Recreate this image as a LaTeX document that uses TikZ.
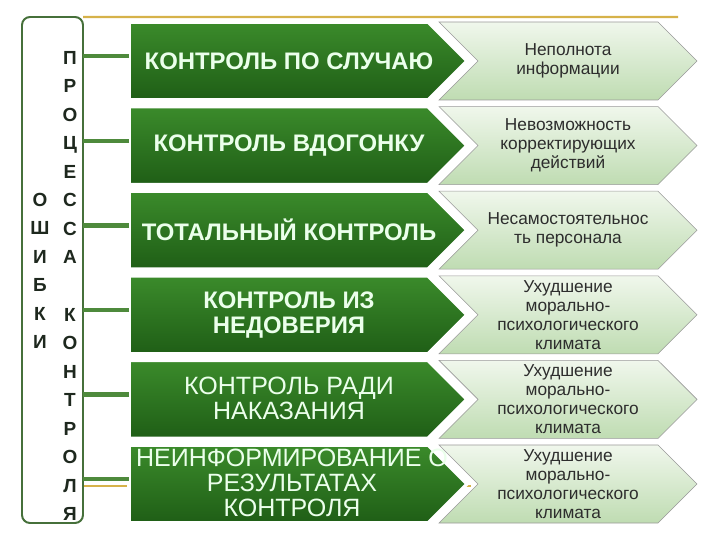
\documentclass[tikz,border=0pt]{standalone}
\usepackage{fontspec}
\setmainfont{Liberation Sans}
\usepackage{tikz}
\usetikzlibrary{shapes.symbols, backgrounds}
\definecolor{darkgreen}{RGB}{31,94,22}
\definecolor{midgreen}{RGB}{59,139,43}
\definecolor{linkgreen}{RGB}{78,138,60}
\definecolor{framegreen}{RGB}{70,112,58}
\definecolor{palegreen}{RGB}{240,247,236}
\definecolor{leafgreen}{RGB}{191,220,178}
\definecolor{goldline}{RGB}{214,178,74}
\definecolor{inkgray}{RGB}{45,45,45}
\definecolor{letterink}{RGB}{30,40,30}

\begin{document}
\begin{tikzpicture}[
  every node/.style={inner sep=0pt, outer sep=0pt},
  frame/.style={draw=framegreen, line width=1.4pt, rounded corners=0.2cm, fill=white,
                minimum width=1.525cm, minimum height=12.65cm},
  letters/.style={font=\fontsize{13.5}{20.3}\selectfont\bfseries, text=letterink, align=center},
  kind/.style={signal, signal to=east, signal pointer angle=90,
               minimum width=8.45cm, minimum height=1.95cm,
               top color=midgreen, bottom color=darkgreen, draw=white, line width=2.5pt},
  kindtext/.style={text=white!92!green, align=center},
  kindbold/.style={kindtext, font=\fontsize{17}{17.8}\selectfont\bfseries},
  kindplain/.style={kindtext, font=\fontsize{17.8}{17.8}\selectfont},
  effect/.style={signal, signal from=west, signal to=east, signal pointer angle=90,
                 minimum width=6.45cm, minimum height=1.95cm,
                 top color=palegreen, bottom color=leafgreen, draw=gray!80, line width=0.4pt,
                 align=center, text=inkgray, font=\fontsize{12.3}{13.5}\selectfont},
  link/.style={draw=linkgreen, line width=3pt},
  gold/.style={draw=goldline, line width=1.5pt}
]
\useasboundingbox (0,0) rectangle (18,13.5);
% kinds of control
\node[kind, anchor=west] (k1) at (3.225,11.975) {};
\node[kind, anchor=west] (k2) at (3.225,9.86) {};
\node[kind, anchor=west] (k3) at (3.225,7.745) {};
\node[kind, anchor=west] (k4) at (3.225,5.63) {};
\node[kind, anchor=west] (k5) at (3.225,3.515) {};
\node[kind, anchor=west] (k6) at (3.225,1.4) {};
\begin{scope}[on background layer]
  \coordinate (goldend) at (16.95,13.075);
  \node[frame, fill=none, draw=none] (errors) at (1.3125,6.75) {};
  \draw[gold] (errors.north east) -- (goldend);
  \draw[gold] ([yshift=-0.05cm]k6.east -| errors.east) -- ([yshift=-0.05cm, xshift=0.1cm]k6.east);
\end{scope}
\node[frame] (errbox) at (1.3125,6.75) {};
\node[letters] (errword) at (1.0,6.725) {О\\Ш\\И\\Б\\К\\И};
\node[letters] (procword) at (1.75,6.35)
  {П\\Р\\О\\Ц\\Е\\С\\С\\А\\{}\\К\\О\\Н\\Т\\Р\\О\\Л\\Я};
\node[kindbold]  (t1) at (7.225,11.975) {КОНТРОЛЬ ПО СЛУЧАЮ};
\node[kindbold]  (t2) at (7.225,9.86) {КОНТРОЛЬ ВДОГОНКУ};
\node[kindbold]  (t3) at (7.225,7.745) {ТОТАЛЬНЫЙ КОНТРОЛЬ};
\node[kindbold]  (t4) at (7.225,5.63) {КОНТРОЛЬ ИЗ\\НЕДОВЕРИЯ};
\node[kindplain] (t5) at (7.225,3.54) {КОНТРОЛЬ РАДИ\\НАКАЗАНИЯ};
\node[kindplain] (t6) at (7.3,1.42) {НЕИНФОРМИРОВАНИЕ О\\РЕЗУЛЬТАТАХ\\КОНТРОЛЯ};
% consequences
\node[effect] (e1) at (14.2,11.975) {Неполнота\\информации};
\node[effect] (e2) at (14.2,9.86) {Невозможность\\корректирующих\\действий};
\node[effect] (e3) at (14.2,7.745) {Несамостоятельнос\\ть персонала};
\node[effect] (e4) at (14.2,5.63) {Ухудшение\\морально-\\психологического\\климата};
\node[effect] (e5) at (14.2,3.515) {Ухудшение\\морально-\\психологического\\климата};
\node[effect] (e6) at (14.2,1.4) {Ухудшение\\морально-\\психологического\\климата};
% links from the frame
\draw[link] ([yshift=0.12cm]k1.west) -- ([yshift=0.12cm]k1.west -| errbox.east);
\draw[link] ([yshift=0.12cm]k2.west) -- ([yshift=0.12cm]k2.west -| errbox.east);
\draw[link] ([yshift=0.12cm]k3.west) -- ([yshift=0.12cm]k3.west -| errbox.east);
\draw[link] ([yshift=0.12cm]k4.west) -- ([yshift=0.12cm]k4.west -| errbox.east);
\draw[link] ([yshift=0.12cm]k5.west) -- ([yshift=0.12cm]k5.west -| errbox.east);
\draw[link] ([yshift=0.12cm]k6.west) -- ([yshift=0.12cm]k6.west -| errbox.east);
\end{tikzpicture}
\end{document}
